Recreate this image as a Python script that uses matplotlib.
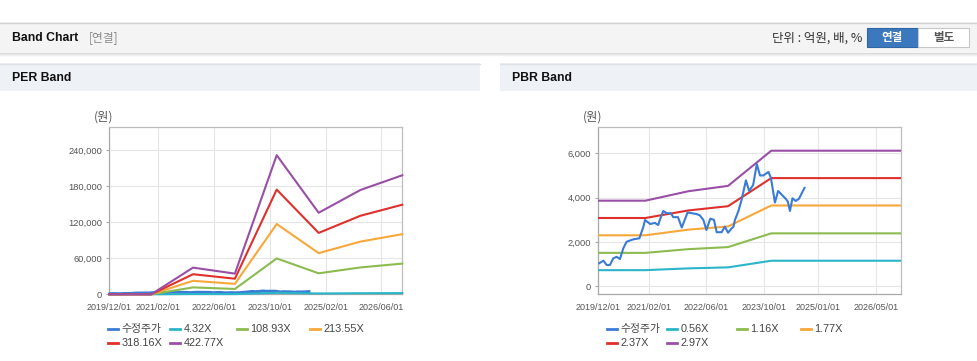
import matplotlib
matplotlib.use('Agg')
import matplotlib.pyplot as plt
import pandas as pd
from matplotlib.patches import Rectangle
from matplotlib.lines import Line2D
from matplotlib.ticker import FuncFormatter, FixedLocator

# ---------------- data ----------------
price_dates = ['2019-12-09', '2020-01-13', '2020-02-10', '2020-03-08', '2020-04-05', '2020-05-04',
               '2020-06-01', '2020-06-29', '2020-07-27', '2020-09-22', '2020-11-12', '2020-12-16',
               '2020-12-30', '2021-02-11', '2021-03-23', '2021-04-20', '2021-05-04', '2021-06-02',
               '2021-06-29', '2021-08-06', '2021-08-25', '2021-10-04', '2021-11-05', '2021-12-24',
               '2022-03-10', '2022-04-07', '2022-05-07', '2022-06-01', '2022-07-04', '2022-08-04',
               '2022-08-27', '2022-10-08', '2022-11-04', '2022-12-01', '2023-01-01', '2023-01-16',
               '2023-01-28', '2023-02-27', '2023-03-25', '2023-05-01', '2023-05-28', '2023-07-01',
               '2023-08-01', '2023-08-28', '2023-09-25', '2023-11-07', '2023-11-28', '2024-01-01',
               '2024-01-28', '2024-02-21', '2024-04-04', '2024-04-19', '2024-05-07', '2024-05-28',
               '2024-06-25', '2024-07-22', '2024-09-07']
price_values = [1040, 1155, 960, 960, 1260, 1330,
                1230, 1710, 2010, 2120, 2165, 2690,
                2990, 2810, 2860, 2765, 2990, 3400,
                3300, 3290, 3120, 3120, 2650, 3330,
                3260, 3200, 2990, 2540, 3050, 3000,
                2440, 2440, 2690, 2418, 2616, 2690,
                2990, 3400, 3893, 4780, 4300, 4570,
                5510, 5000, 5000, 5160, 4900, 3780,
                4300, 4170, 3930, 3820, 3397, 3970,
                3850, 3950, 4440]

per_dates = ['2019-12-01', '2020-12-01', '2021-12-01', '2022-12-01',
             '2023-12-01', '2024-12-01', '2025-12-01', '2026-12-01']
per_4_32 = [0, 0, 455, 353, 2371, 1390, 1778, 2029]
per_108_93 = [0, 0, 11500, 8900, 59800, 35000, 44800, 51200]
per_213_55 = [0, 0, 22500, 17400, 117200, 68700, 87900, 100300]
per_318_16 = [0, 0, 33500, 26000, 174600, 102400, 131000, 149400]
per_422_77 = [0, 0, 44500, 34500, 232000, 136000, 174000, 198500]

pbr_dates = ['2019-12-01', '2021-01-01', '2022-01-01', '2022-12-01', '2023-12-01', '2026-12-01']
pbr_0_56 = [728, 728, 809, 854, 1153, 1153]
pbr_1_16 = [1508, 1508, 1676, 1769, 2389, 2389]
pbr_1_77 = [2301, 2301, 2557, 2700, 3646, 3646]
pbr_2_37 = [3081, 3081, 3423, 3614, 4881, 4881]
pbr_2_97 = [3862, 3862, 4290, 4530, 6117, 6117]

per_labels = ['수정주가', '4.32X', '108.93X', '213.55X', '318.16X', '422.77X']
pbr_labels = ['수정주가', '0.56X', '1.16X', '1.77X', '2.37X', '2.97X']

per_xtick_dates = ['2019-12-01', '2021-02-01', '2022-06-01', '2023-10-01', '2025-02-01', '2026-06-01']
per_xtick_labels = ['2019/12/01', '2021/02/01', '2022/06/01', '2023/10/01', '2025/02/01', '2026/06/01']
pbr_xtick_dates = ['2019-12-01', '2021-02-01', '2022-06-01', '2023-10-01', '2025-01-01', '2026-05-01']
pbr_xtick_labels = ['2019/12/01', '2021/02/01', '2022/06/01', '2023/10/01', '2025/01/01', '2026/05/01']
per_yticks = [0, 60000, 120000, 180000, 240000]
pbr_yticks = [0, 2000, 4000, 6000]

# ---------------- style ----------------
colors = ['#3a7bd5', '#2bb5c9', '#8dbb4f', '#f8a83b', '#e0302b', '#994fa6']
LAT = ['Liberation Sans', 'Noto Sans CJK KR']
KR = ['Noto Sans CJK KR', 'DejaVu Sans']

W, H = 978, 361
fig = plt.figure(figsize=(W / 100, H / 100), dpi=100)
fig.patch.set_facecolor('white')

# background / decoration layer in pixel coordinates
bg = fig.add_axes([0, 0, 1, 1], zorder=-5)
bg.set_xlim(0, W)
bg.set_ylim(H, 0)
bg.axis('off')

bg.add_patch(Rectangle((0, 22), W, 30, fc='#f4f4f4', ec='none'))
bg.plot([0, W], [22.5, 22.5], color='#d2d2d2', lw=1)
for yy, cc in [(52.5, '#d6d6d6'), (53.5, '#e6e6e6'), (54.5, '#f1f1f1')]:
    bg.plot([0, W], [yy, yy], color=cc, lw=1)

bg.text(12, 38, 'Band Chart', fontsize=8.8, fontweight='bold', color='#111111',
        family=LAT, va='center', ha='left')
bg.text(89, 38, '[연결]', fontsize=8.5, color='#8a8a8a', family=KR, va='center', ha='left')
bg.text(862, 38, '단위 : 억원, 배, %', fontsize=9, color='#333333', family=KR, va='center', ha='right')

bg.add_patch(Rectangle((867, 27.5), 51, 19, fc='#3b78bd', ec='#2f66a6', lw=0.8))
bg.text(892.5, 37, '연결', fontsize=8.3, fontweight='bold', color='white', family=KR, va='center', ha='center')
bg.add_patch(Rectangle((918, 27.5), 51, 19, fc='white', ec='#c8c8c8', lw=0.8))
bg.text(943.5, 37, '별도', fontsize=8.3, fontweight='bold', color='#555555', family=KR, va='center', ha='center')

for x0, w, title in [(0, 480, 'PER Band'), (500, 478, 'PBR Band')]:
    bg.add_patch(Rectangle((x0, 63), w, 28, fc='#eef1f6', ec='none'))
    bg.plot([x0, x0 + w], [63.5, 63.5], color='#dde1e8', lw=1)
    bg.text(x0 + 12, 78, title, fontsize=8.8, fontweight='bold', color='#111111',
            family=LAT, va='center', ha='left')

bg.text(104, 117, '(원)', fontsize=8.8, color='#555555', family=KR, va='center', ha='center')
bg.text(593, 117, '(원)', fontsize=8.8, color='#555555', family=KR, va='center', ha='center')

xmin = pd.Timestamp('2019-12-01')
xmax = pd.Timestamp('2026-12-01')
pdates = pd.to_datetime(price_dates)


def make_axes(rect_px, ylim, yticks, xt_dates, xt_labels):
    l, t, r, b = rect_px
    ax = fig.add_axes([l / W, (H - b) / H, (r - l) / W, (b - t) / H])
    ax.set_xlim(xmin, xmax)
    ax.set_ylim(*ylim)
    ax.xaxis.set_major_locator(FixedLocator([matplotlib.dates.date2num(d)
                                             for d in pd.to_datetime(xt_dates)]))
    ax.set_xticklabels(xt_labels)
    ax.yaxis.set_major_locator(FixedLocator(yticks))
    ax.yaxis.set_major_formatter(FuncFormatter(lambda v, p: f'{int(v):,}'))
    ax.grid(True, color='#e6e6e6', lw=0.8)
    ax.set_axisbelow(True)
    for s in ax.spines.values():
        s.set_color('#bdbdbd')
        s.set_linewidth(0.9)
    ax.spines['left'].set_color('#a8a8a8')
    ax.spines['bottom'].set_color('#a8a8a8')
    ax.tick_params(axis='x', length=0, pad=6, labelsize=6.5, labelcolor='#555555')
    ax.tick_params(axis='y', length=2.5, width=0.8, color='#a8a8a8', pad=2.5,
                   labelsize=6.7, labelcolor='#555555')
    for lab in ax.get_xticklabels() + ax.get_yticklabels():
        lab.set_family(LAT)
    return ax


# PER chart
ax1 = make_axes((109.3, 127, 402.3, 294.3), (0, 279000), per_yticks, per_xtick_dates, per_xtick_labels)
ax1.plot(pdates, price_values, color=colors[0], lw=2.2, clip_on=False, zorder=3)
pd1 = pd.to_datetime(per_dates)
for ser, c in zip([per_4_32, per_108_93, per_213_55, per_318_16, per_422_77], colors[1:]):
    ax1.plot(pd1, ser, color=c, lw=1.5, clip_on=False, zorder=3)

# PBR chart
ax2 = make_axes((598.3, 127.3, 901, 294.3), (-361, 7173), pbr_yticks, pbr_xtick_dates, pbr_xtick_labels)
pd2 = pd.to_datetime(pbr_dates)
for ser, c in zip([pbr_0_56, pbr_1_16, pbr_1_77, pbr_2_37, pbr_2_97], colors[1:]):
    ax2.plot(pd2, ser, color=c, lw=1.5, zorder=3)
ax2.plot(pdates, price_values, color=colors[0], lw=1.5, zorder=4)


# legends (custom layout, row-major like the original)
def legend(labels, xs):
    rows = [329, 343]
    for i, (lab, c) in enumerate(zip(labels, colors)):
        if i < 4:
            x, y = xs[i], rows[0]
        else:
            x, y = xs[i - 4], rows[1]
        bg.add_line(Line2D([x, x + 10], [y, y], color=c, lw=2))
        bg.text(x + 13.5, y, lab, fontsize=7.8, color='#444444', family=LAT, va='center', ha='left')


legend(per_labels, [108, 170, 237, 310])
legend(pbr_labels, [607, 667, 737, 801])

fig.savefig('out.png', dpi=100, facecolor='white')
